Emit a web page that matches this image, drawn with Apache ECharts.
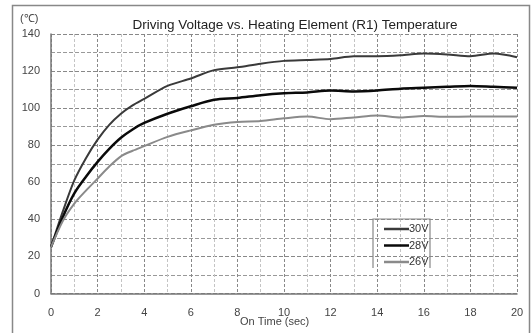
<!DOCTYPE html>
<html>
<head>
<meta charset="utf-8">
<script src="https://cdn.jsdelivr.net/npm/echarts@6/dist/echarts.min.js"></script>
<style>
  html, body { margin: 0; padding: 0; background: #fff; }
  #chart { width: 531px; height: 333px; }
</style>
</head>
<body>
<div id="chart"></div>
<script>
// 通电时间 (sec)
var onTime = [0, 0.5, 1, 1.5, 2, 2.5, 3, 3.5, 4, 5, 6, 7, 8, 9, 10, 11, 12, 13, 14, 15, 16, 17, 18, 19, 20];
// 温度 (℃)
var temp30V = [25, 44, 61, 73, 83, 91, 97, 101.5, 105, 112, 116, 120.5, 122, 124, 125.5, 126, 126.5, 128, 128, 128.5, 129.5, 129, 128, 129.5, 127.5];
var temp28V = [25, 41, 54, 63, 71, 78, 84, 88.5, 92, 97, 101, 104.5, 105.5, 107, 108, 108.5, 109.5, 109, 109.5, 110.5, 111, 111.5, 112, 111.5, 111];
var temp26V = [25, 39, 48.5, 55.5, 62, 68.5, 74, 77, 79.5, 84.5, 88, 91, 92.5, 93, 94.5, 95.5, 94, 95, 96, 95, 95.8, 95.3, 95.5, 95.5, 95.5];
var seriesNames = ['30V', '28V', '26V'];

var fontName = 'Liberation Sans, Arial, sans-serif';

function pairs(values) {
	return onTime.map(function (t, i) { return [t, values[i]]; });
}

var myChart = echarts.init(document.getElementById('chart'));

myChart.setOption({
	animation: false,
	backgroundColor: '#fff',
	title: {
		text: 'Driving Voltage vs. Heating Element (R1) Temperature',
		left: 290,
		textAlign: 'center',
		top: 13,
		textStyle: { fontFamily: fontName, fontSize: 13.5, fontWeight: 'normal', color: '#222' }
	},
	grid: { left: 51, right: 14, top: 34, bottom: 39.5 },
	legend: {
		orient: 'vertical',
		left: 379,
		top: 218,
		icon: 'rect',
		itemWidth: 25,
		itemHeight: 2.5,
		itemGap: 4.5,
		textStyle: { fontFamily: fontName, fontSize: 11, lineHeight: 12, color: '#333', padding: [0, 0, 0, -5] },
		data: seriesNames
	},
	xAxis: {
		type: 'value',
		min: 0,
		max: 20,
		interval: 2,
		axisLine: { show: true, onZero: false, lineStyle: { color: '#777', width: 1.5 } },
		axisTick: { show: false },
		axisLabel: { margin: 14, fontFamily: fontName, fontSize: 11, color: '#444' },
		splitLine: { show: true, lineStyle: { color: '#888', type: [3, 2] } },
		minorTick: { show: false, splitNumber: 2 },
		minorSplitLine: { show: true, lineStyle: { color: '#c4c4c4', type: [3, 2] } }
	},
	yAxis: {
		type: 'value',
		min: 0,
		max: 140,
		interval: 20,
		axisLine: { show: true, lineStyle: { color: '#777', width: 1.5 } },
		axisTick: { show: false },
		axisLabel: { margin: 11, fontFamily: fontName, fontSize: 11, color: '#444' },
		splitLine: { show: true, lineStyle: { color: '#888', type: [4, 2] } },
		minorTick: { show: false, splitNumber: 2 },
		minorSplitLine: { show: true, lineStyle: { color: '#999', type: [4, 2] } }
	},
	graphic: [
		// 外框
		{ type: 'rect', shape: { x: 12.5, y: 5.5, width: 517, height: 340 }, style: { fill: 'none', stroke: '#888', lineWidth: 1.5 }, z: -1 },
		{ type: 'text', left: 20, top: 13, style: { text: '(℃)', font: '11px ' + fontName, fill: '#444' } },
		{ type: 'text', left: 240, top: 316, style: { text: 'On Time (sec)', font: '11px ' + fontName, fill: '#444' } },
		// 图例框 (下边缘未画)
		{ type: 'polyline', shape: { points: [[373, 268], [373, 219], [430, 219], [430, 268]] }, style: { fill: 'none', stroke: '#888', lineWidth: 1.2 }, z: 10 }
	],
	series: [
		{
			name: '30V', type: 'line', symbol: 'none', smooth: 0.3,
			lineStyle: { color: '#3a3a3a', width: 2 }, itemStyle: { color: '#3a3a3a' },
			data: pairs(temp30V)
		},
		{
			name: '28V', type: 'line', symbol: 'none', smooth: 0.3,
			lineStyle: { color: '#0a0a0a', width: 2.5 }, itemStyle: { color: '#0a0a0a' },
			data: pairs(temp28V)
		},
		{
			name: '26V', type: 'line', symbol: 'none', smooth: 0.3,
			lineStyle: { color: '#8a8a8a', width: 2 }, itemStyle: { color: '#8a8a8a' },
			data: pairs(temp26V)
		}
	]
});
</script>
</body>
</html>
